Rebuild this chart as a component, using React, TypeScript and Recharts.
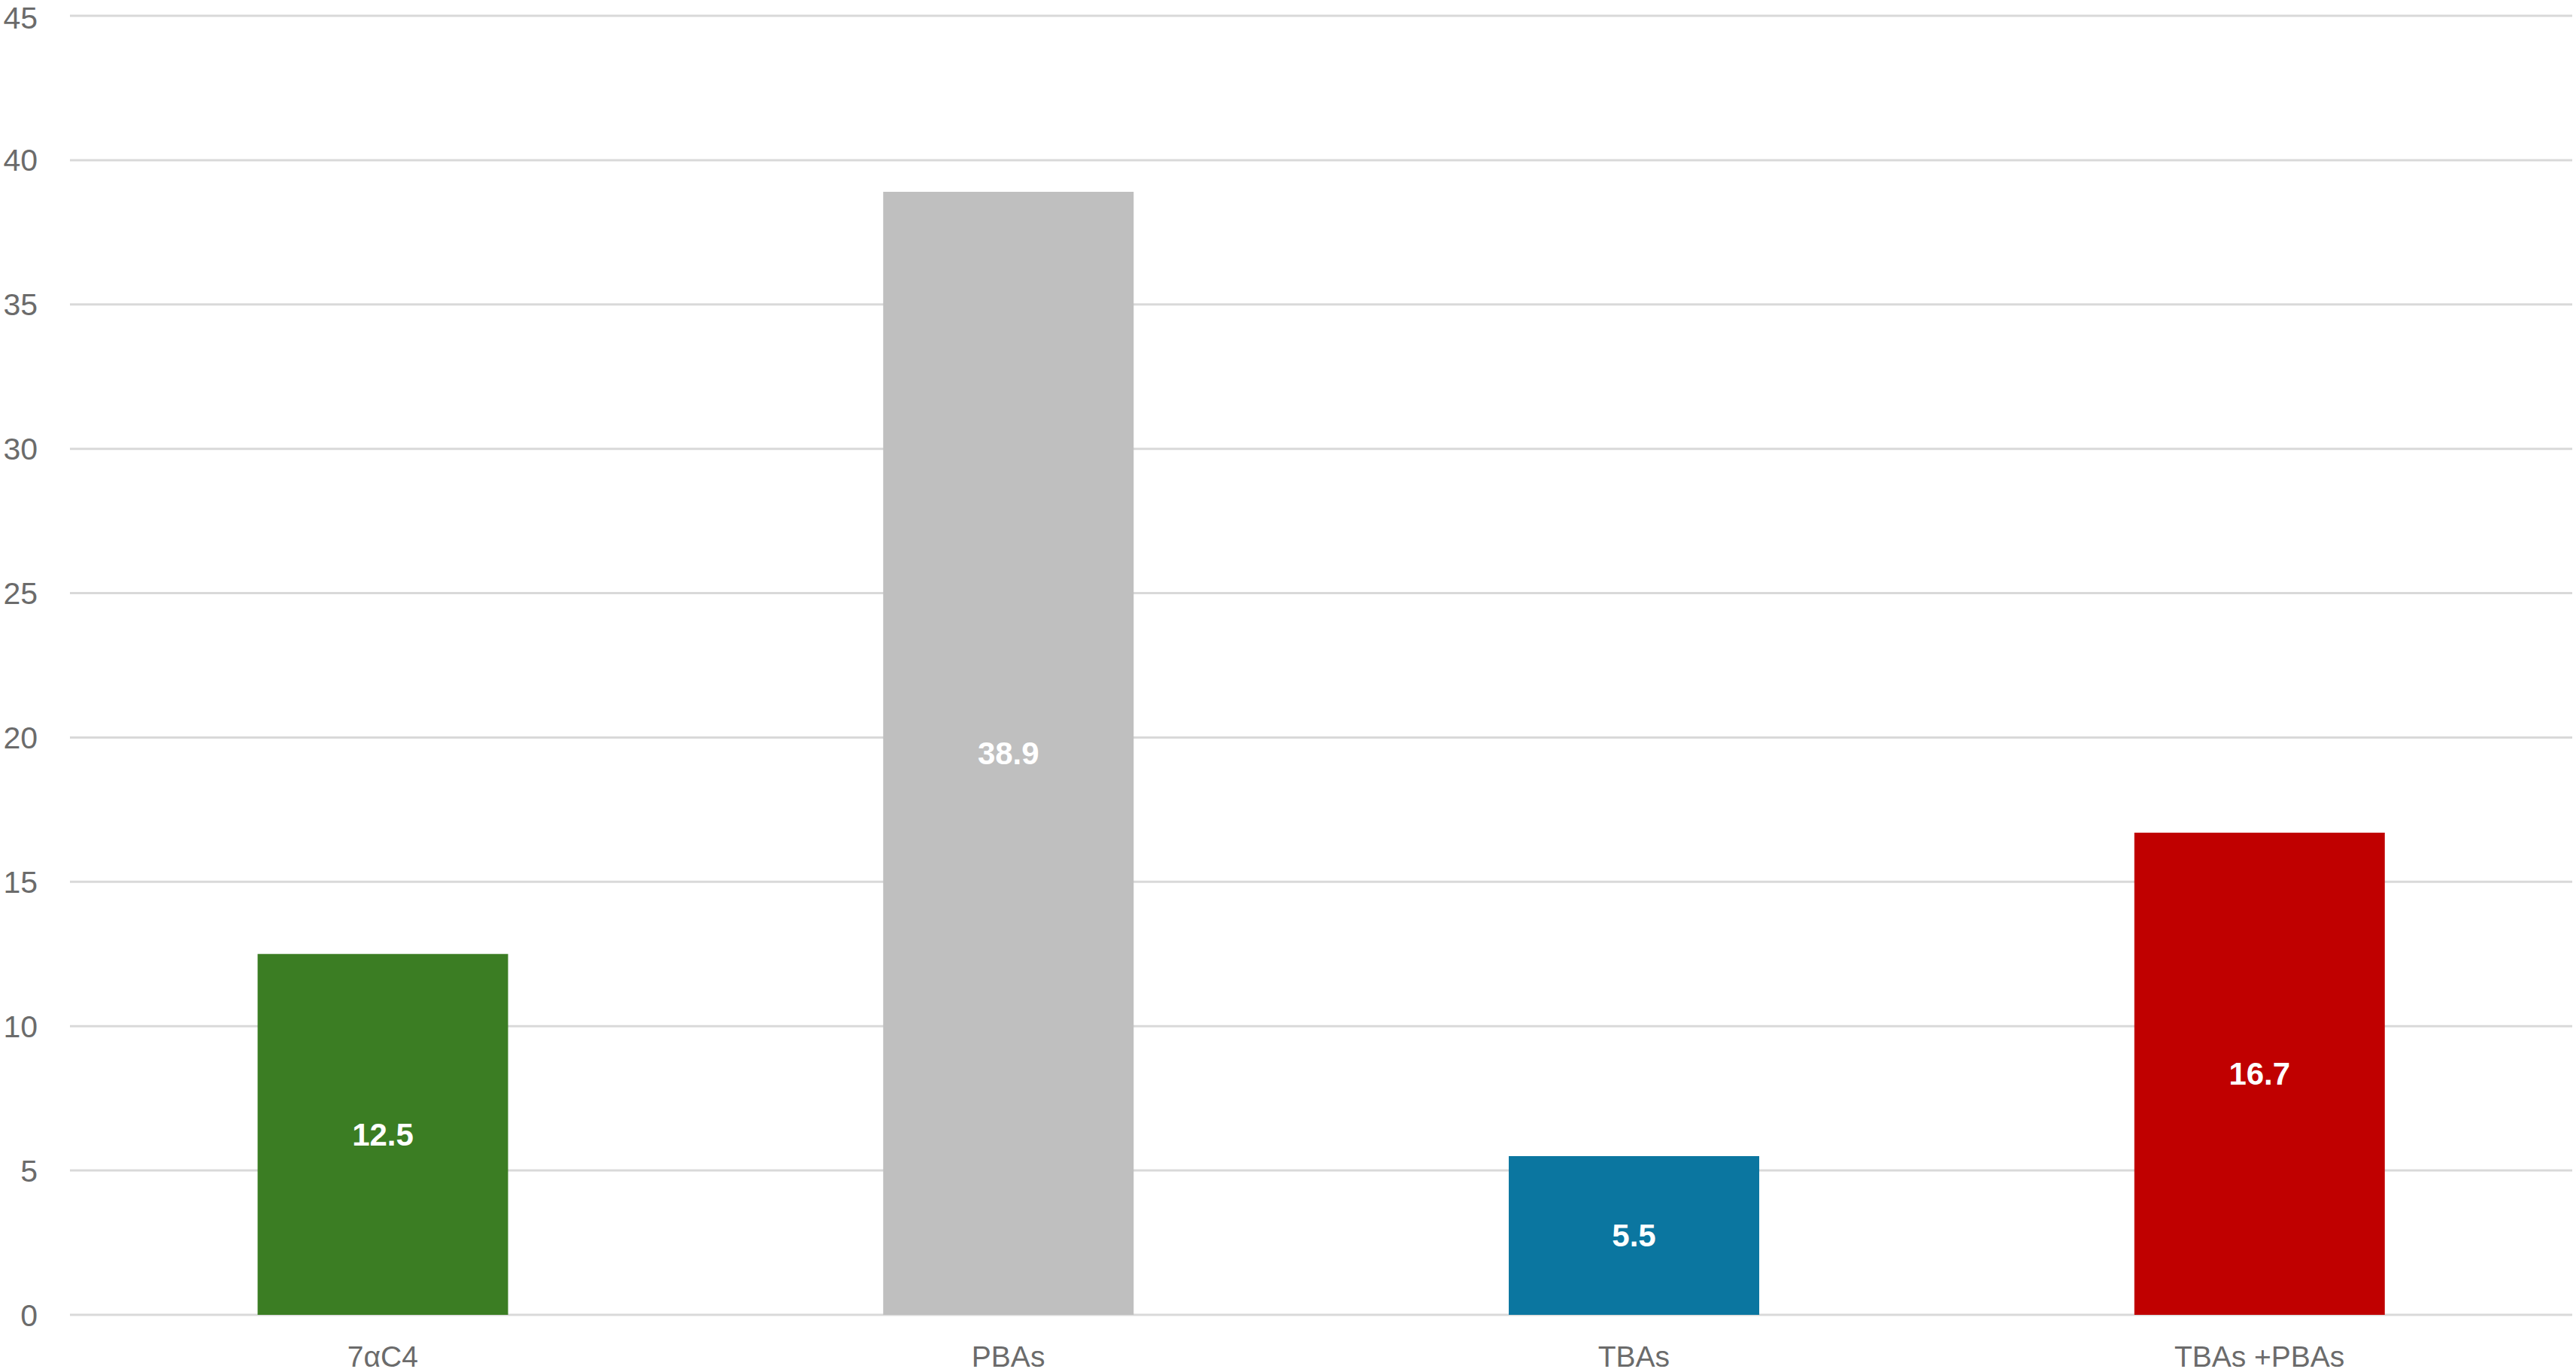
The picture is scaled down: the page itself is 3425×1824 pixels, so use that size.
import React from "react";
import { BarChart, Bar, XAxis, YAxis, CartesianGrid, Cell, LabelList } from "recharts";

const categories = ["7αC4", "PBAs", "TBAs", "TBAs +PBAs"];
const values = [12.5, 38.9, 5.5, 16.7];
const colors = ["#3b7d23", "#bfbfbf", "#0b76a0", "#c00000"];
const yTicks = [0, 5, 10, 15, 20, 25, 30, 35, 40, 45];

const data = categories.map((name, i) => ({ name, value: values[i] }));

const FONT = "'Liberation Sans', Arial, sans-serif";

export default function App() {
  return (
    <div style={{ position: "absolute", left: 0, top: 0, width: 3425, height: 1824, background: "#fff" }}>
      <BarChart
        width={3425}
        height={1824}
        data={data}
        margin={{ top: 21, right: 5, bottom: 0, left: 0 }}
        barCategoryGap="30%"
      >
        <CartesianGrid vertical={false} stroke="#d9d9d9" strokeWidth={3} />
        <XAxis
          dataKey="name"
          axisLine={false}
          tickLine={false}
          tickSize={0}
          tickMargin={41}
          height={76}
          tick={{ fill: "#6b6b6b", fontSize: 39, fontFamily: FONT }}
          interval={0}
        />
        <YAxis
          domain={[0, 45]}
          ticks={yTicks}
          axisLine={false}
          tickLine={false}
          tickSize={0}
          tickMargin={43}
          width={93}
          tick={{ fill: "#6b6b6b", fontSize: 41, fontFamily: FONT }}
        />
        <Bar dataKey="value" isAnimationActive={false}>
          {data.map((d, i) => (
            <Cell key={d.name} fill={colors[i]} />
          ))}
          <LabelList
            dataKey="value"
            position="center"
            fill="#ffffff"
            style={{ fontSize: 42, fontWeight: "bold", fontFamily: FONT }}
          />
        </Bar>
      </BarChart>
    </div>
  );
}
